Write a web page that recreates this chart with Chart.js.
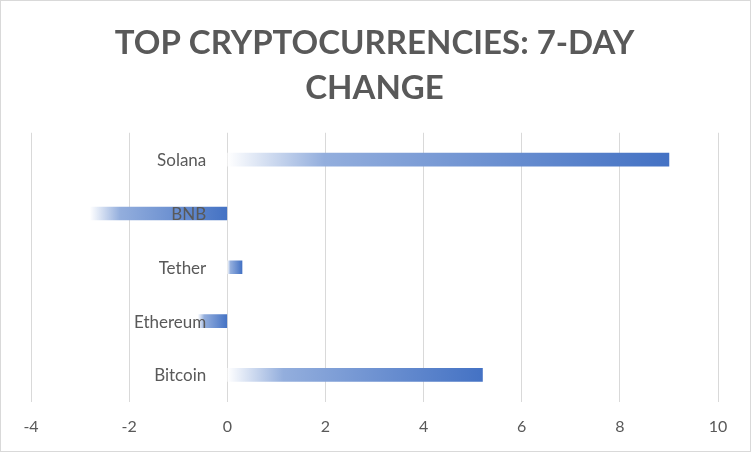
<!DOCTYPE html>
<html>
<head>
<meta charset="utf-8">
<script src="https://cdn.jsdelivr.net/npm/chart.js@4"></script>
<style>
  html, body { margin: 0; padding: 0; background: #fff; }
  #wrap { width: 751px; height: 452px; box-sizing: border-box; border: 1px solid #d9d9d9; }
</style>
</head>
<body>
<div id="wrap"><canvas id="chart"></canvas></div>
<script>
// categories listed bottom to top as in the picture, reversed for chart.js
const coins = ['Bitcoin', 'Ethereum', 'Tether', 'BNB', 'Solana'];
const weekChange = [5.2, -0.6, 0.3, -2.8, 9.0];
const tickValues = [-4, -2, 0, 2, 4, 6, 8, 10];

const labels = coins.slice().reverse();
const values = weekChange.slice().reverse();

const textColor = '#595959';
const gridColor = '#d9d9d9';

// gradient white -> blue across each bar, left to right
function barGradient(ctx) {
    const chart = ctx.chart;
    if (!chart.chartArea || ctx.type !== 'data') return '#4472c4';
    const x = chart.scales.x;
    const v = ctx.raw;
    const left = x.getPixelForValue(Math.min(0, v));
    const right = x.getPixelForValue(Math.max(0, v));
    if (right - left < 1) return '#4472c4';
    const g = chart.ctx.createLinearGradient(left, 0, right, 0);
    g.addColorStop(0, 'rgba(255,255,255,1)');
    g.addColorStop(0.22, '#93aedd');
    g.addColorStop(1, '#4472c4');
    return g;
}

// category names sit next to the zero line, like excel does
const axisLabels = {
    id: 'axisLabels',
    afterDatasetsDraw(chart) {
        const c = chart.ctx;
        const x0 = chart.scales.x.getPixelForValue(0);
        const y = chart.scales.y;
        c.save();
        c.font = '17px Lato';
        c.fillStyle = textColor;
        c.textAlign = 'right';
        c.textBaseline = 'middle';
        labels.forEach((name, i) => {
            c.fillText(name, x0 - 21, y.getPixelForValue(i) + 1);
        });
        c.restore();
    }
};

new Chart(document.getElementById('chart'), {
    type: 'bar',
    data: {
        labels: labels,
        datasets: [{
            data: values,
            backgroundColor: barGradient,
            borderWidth: 0,
            barThickness: 13
        }]
    },
    options: {
        indexAxis: 'y',
        responsive: true,
        maintainAspectRatio: false,
        animation: false,
        layout: { padding: { left: 30, right: 32, top: 0, bottom: 0 } },
        plugins: {
            legend: { display: false },
            tooltip: { enabled: false },
            title: {
                display: true,
                text: ['TOP CRYPTOCURRENCIES: 7-DAY', 'CHANGE'],
                color: textColor,
                font: { family: 'Lato', size: 33, weight: 'bold', lineHeight: 1.36 },
                padding: { top: 20, bottom: 22 }
            }
        },
        scales: {
            x: {
                min: -4,
                max: 10,
                afterBuildTicks(axis) {
                    axis.ticks = tickValues.map(v => ({ value: v }));
                },
                grid: { color: gridColor, lineWidth: 1, drawTicks: false },
                border: { display: false },
                ticks: {
                    color: textColor,
                    font: { family: 'Lato', size: 16 },
                    padding: 15
                }
            },
            y: {
                display: false
            }
        }
    },
    plugins: [axisLabels]
});
</script>
</body>
</html>
